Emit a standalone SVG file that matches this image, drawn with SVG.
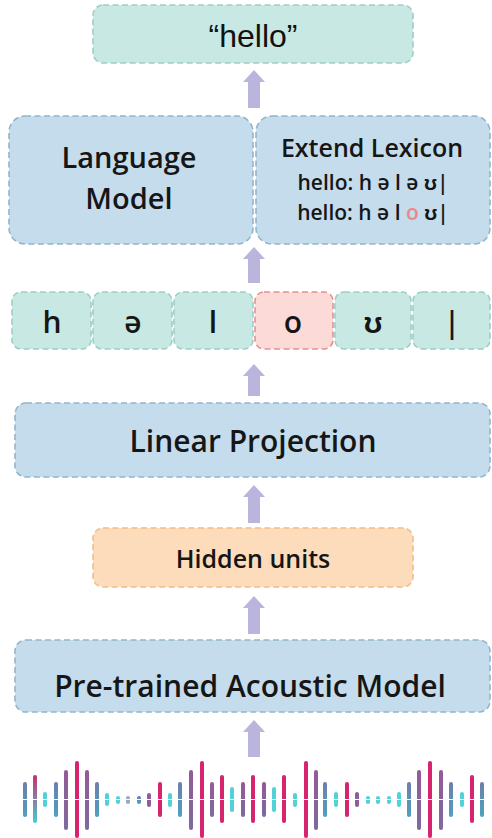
<svg xmlns="http://www.w3.org/2000/svg" width="492" height="838" viewBox="0 0 492 838">
<defs>
<style>
.box{stroke-width:1.6;stroke-dasharray:6 3.5}
.blue{fill:#c5dcec;stroke:#93b5cc}
.teal{fill:#c7e8e3;stroke:#9fcdc5}
.red{fill:#fcdad7;stroke:#e0928f}
.orange{fill:#fddcbc;stroke:#eebf8c}
.t{font-family:"Open Sans","Liberation Sans",sans-serif;font-weight:600;fill:#161616;text-anchor:middle}
.arrow{fill:#bab5dc}
.m{fill:#d6246e}.p{fill:url(#gp)}.b{fill:url(#gb)}.c{fill:#52d2d8}.g{fill:#9aa9bb}.pc{fill:url(#gpc)}.pp{fill:#8e5f96}
</style>
<linearGradient id="gp" x1="0" y1="0" x2="0" y2="1"><stop offset="0" stop-color="#955a98"/><stop offset="1" stop-color="#7d6a9e"/></linearGradient>
<linearGradient id="gb" x1="0" y1="0" x2="0" y2="1"><stop offset="0" stop-color="#6d7fab"/><stop offset="1" stop-color="#4ea0bf"/></linearGradient>
<linearGradient id="gpc" x1="0" y1="0" x2="0" y2="1"><stop offset="0" stop-color="#c9306f"/><stop offset="1" stop-color="#45ccd6"/></linearGradient>
</defs>
<rect width="492" height="838" fill="#ffffff"/>

<g id="connectors">
<path class="arrow" d="M254,70 L265,82 L260,82 L260,108 L248,108 L248,82 L243,82 Z"/>
<path class="arrow" d="M254,247 L265,259 L260,259 L260,283 L248,283 L248,259 L243,259 Z"/>
<path class="arrow" d="M254,364 L265,376 L260,376 L260,396 L248,396 L248,376 L243,376 Z"/>
<path class="arrow" d="M254,485 L265,497 L260,497 L260,523 L248,523 L248,497 L243,497 Z"/>
<path class="arrow" d="M254,596 L265,608 L260,608 L260,634 L248,634 L248,608 L243,608 Z"/>
<path class="arrow" d="M254,720 L265,732 L260,732 L260,757 L248,757 L248,732 L243,732 Z"/>
</g>

<g id="output">
<rect class="box teal" x="93" y="5" width="320" height="58" rx="10"/>
<text x="253" y="47" font-family="'Liberation Sans',Arial,sans-serif" font-size="32" fill="#111" text-anchor="middle">“hello”</text>
</g>

<g id="language-model">
<rect class="box blue" x="9" y="116" width="244" height="128" rx="16"/>
<text class="t" x="129" y="168" font-size="29">Language</text>
<text class="t" x="129" y="209" font-size="29">Model</text>
</g>

<g id="extend-lexicon">
<rect class="box blue" x="256" y="116" width="234" height="128" rx="16"/>
<text class="t" x="372" y="157" font-size="25">Extend Lexicon</text>
<text class="t" x="373" y="190" font-size="21">hello: h ə l ə ʊ|</text>
<text class="t" x="373" y="220" font-size="21">hello: h ə l <tspan fill="#e8898a">o</tspan> ʊ|</text>
</g>

<g id="phonemes">
<g id="ph-h"><rect class="box teal" x="12" y="292" width="79" height="57" rx="9"/><text class="t" x="52" y="333" font-size="30">h</text></g>
<g id="ph-schwa"><rect class="box teal" x="93" y="292" width="79" height="57" rx="9"/><text class="t" x="133" y="333" font-size="30">ə</text></g>
<g id="ph-l"><rect class="box teal" x="174" y="292" width="79" height="57" rx="9"/><text class="t" x="213" y="333" font-size="30">l</text></g>
<g id="ph-o"><rect class="box red" x="255" y="292" width="78" height="57" rx="9"/><text class="t" x="293" y="333" font-size="30">o</text></g>
<g id="ph-upsilon"><rect class="box teal" x="335" y="292" width="76" height="57" rx="9"/><text class="t" x="373" y="333" font-size="30">ʊ</text></g>
<g id="ph-bar"><rect class="box teal" x="413" y="292" width="77" height="57" rx="9"/><text class="t" x="452" y="333" font-size="30">|</text></g>
</g>

<g id="linear-projection">
<rect class="box blue" x="15" y="403" width="475" height="74" rx="11"/>
<text class="t" x="253" y="452" font-size="30">Linear Projection</text>
</g>

<g id="hidden-units">
<rect class="box orange" x="93" y="528" width="320" height="59" rx="10"/>
<text class="t" x="253" y="568" font-size="25">Hidden units</text>
</g>

<g id="acoustic-model">
<rect class="box blue" x="15" y="640" width="475" height="72" rx="11"/>
<text class="t" x="250" y="697" font-size="30">Pre-trained Acoustic Model</text>
</g>

<g id="waveform">
<rect class="b" x="23" y="782" width="4" height="35" rx="2"/>
<rect class="pc" x="33" y="775" width="4" height="48" rx="2"/>
<rect class="c" x="43" y="792" width="4" height="15" rx="2"/>
<rect class="b" x="54" y="782" width="4" height="35" rx="2"/>
<rect class="p" x="64" y="770" width="4" height="60" rx="2"/>
<rect class="m" x="75" y="761" width="4" height="77" rx="2"/>
<rect class="p" x="85" y="770" width="4" height="60" rx="2"/>
<rect class="b" x="95" y="782" width="4" height="35" rx="2"/>
<rect class="c" x="105" y="793" width="4" height="13" rx="2"/>
<rect class="c" x="116" y="796" width="4" height="8" rx="2"/>
<rect class="g" x="126" y="796" width="4" height="8" rx="2"/>
<rect class="b" x="137" y="796" width="4" height="8" rx="2"/>
<rect class="pp" x="147" y="793" width="4" height="14" rx="2"/>
<rect class="m" x="158" y="782" width="4" height="35" rx="2"/>
<rect class="c" x="168" y="793" width="4" height="14" rx="2"/>
<rect class="b" x="178" y="782" width="4" height="35" rx="2"/>
<rect class="p" x="189" y="770" width="4" height="60" rx="2"/>
<rect class="m" x="200" y="761" width="4" height="77" rx="2"/>
<rect class="p" x="210" y="782" width="4" height="35" rx="2"/>
<rect class="m" x="220" y="775" width="4" height="48" rx="2"/>
<rect class="c" x="230" y="787" width="4" height="25" rx="2"/>
<rect class="p" x="241" y="782" width="4" height="35" rx="2"/>
<rect class="m" x="251" y="775" width="4" height="48" rx="2"/>
<rect class="p" x="262" y="782" width="4" height="35" rx="2"/>
<rect class="c" x="272" y="787" width="4" height="25" rx="2"/>
<rect class="m" x="282" y="775" width="4" height="48" rx="2"/>
<rect class="c" x="293" y="793" width="4" height="14" rx="2"/>
<rect class="m" x="304" y="761" width="4" height="77" rx="2"/>
<rect class="p" x="314" y="770" width="4" height="60" rx="2"/>
<rect class="b" x="323" y="782" width="4" height="35" rx="2"/>
<rect class="c" x="334" y="792" width="4" height="15" rx="2"/>
<rect class="m" x="345" y="782" width="4" height="35" rx="2"/>
<rect class="pp" x="355" y="792" width="4" height="15" rx="2"/>
<rect class="c" x="366" y="796" width="4" height="8" rx="2"/>
<rect class="c" x="376" y="796" width="4" height="8" rx="2"/>
<rect class="c" x="387" y="796" width="4" height="8" rx="2"/>
<rect class="c" x="397" y="792" width="4" height="15" rx="2"/>
<rect class="b" x="407" y="782" width="4" height="35" rx="2"/>
<rect class="p" x="417" y="770" width="4" height="60" rx="2"/>
<rect class="m" x="428" y="761" width="4" height="77" rx="2"/>
<rect class="p" x="439" y="770" width="4" height="60" rx="2"/>
<rect class="b" x="449" y="782" width="4" height="35" rx="2"/>
<rect class="c" x="460" y="792" width="4" height="15" rx="2"/>
<rect class="m" x="470" y="775" width="4" height="48" rx="2"/>
<rect class="b" x="480" y="782" width="4" height="35" rx="2"/>
<line x1="20" y1="799.5" x2="488" y2="799.5" stroke="#ffffff" stroke-width="1.2"/>
</g>
</svg>
